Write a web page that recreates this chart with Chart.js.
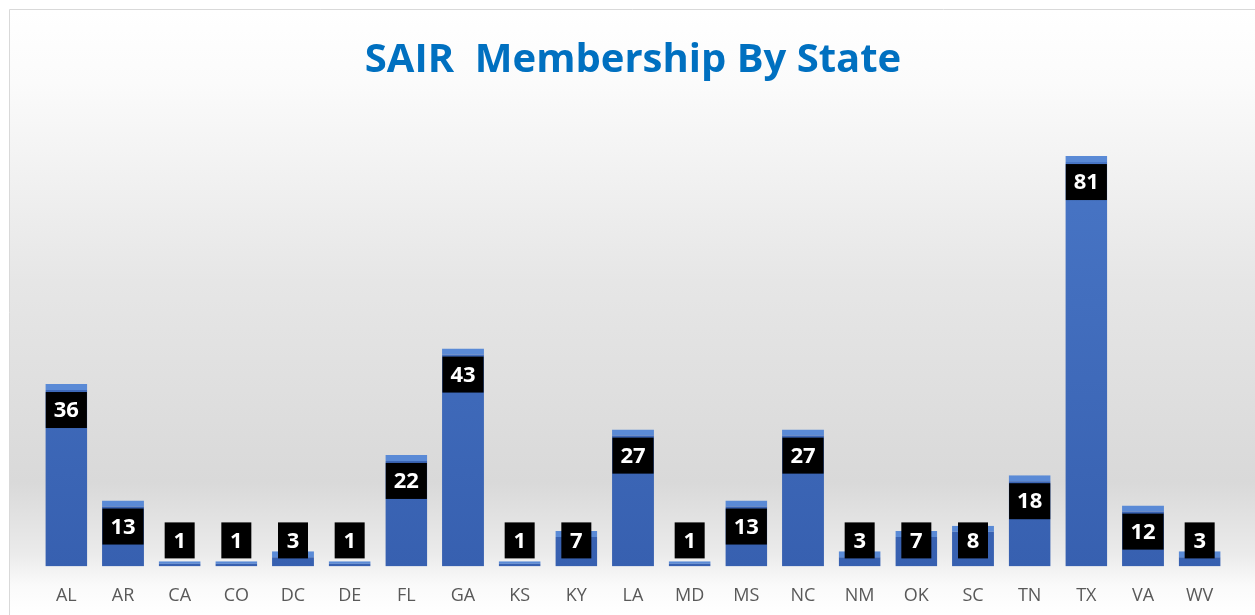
<!DOCTYPE html>
<html><head><meta charset="utf-8">
<script src="https://cdn.jsdelivr.net/npm/chart.js@4/dist/chart.umd.min.js"></script>
<style>html,body{margin:0;padding:0;background:#fff;}#wrap{width:1255px;height:615px;}</style>
</head><body><div id="wrap"><canvas id="c" width="1255" height="615"></canvas></div>
<script>
const states = ["AL","AR","CA","CO","DC","DE","FL","GA","KS","KY","LA","MD","MS","NC","NM","OK","SC","TN","TX","VA","WV"];
const members = [36,13,1,1,3,1,22,43,1,7,27,1,13,27,3,7,8,18,81,12,3];
const titleText = "SAIR  Membership By State";

const bgPlugin = {
  id: 'bg',
  beforeDraw(chart) {
    const ctx = chart.ctx, w = chart.width, h = chart.height;
    ctx.save();
    ctx.fillStyle = '#ffffff';
    ctx.fillRect(0,0,w,h);
    const g = ctx.createLinearGradient(0, 10, 0, h);
    g.addColorStop(0, '#ffffff');
    g.addColorStop(0.12, '#fbfbfb');
    g.addColorStop(0.45, '#e6e6e6');
    g.addColorStop(0.78, '#d9d9d9');
    g.addColorStop(0.90, '#ebebeb');
    g.addColorStop(0.95, '#fafafa');
    g.addColorStop(1, '#ffffff');
    ctx.fillStyle = g;
    ctx.fillRect(10, 10, w - 10, h - 10);
    ctx.strokeStyle = '#d9d9d9';
    ctx.lineWidth = 1;
    ctx.beginPath();
    ctx.moveTo(9.5, h); ctx.lineTo(9.5, 9.5); ctx.lineTo(w, 9.5);
    ctx.stroke();
    ctx.restore();
  }
};

const labelPlugin = {
  id: 'boxLabels',
  afterDatasetsDraw(chart) {
    const ctx = chart.ctx;
    const meta = chart.getDatasetMeta(0);
    const yScale = chart.scales.y;
    const limit = yScale.getPixelForValue(0) - 26;
    ctx.save();
    ctx.font = 'bold 22px "Open Sans", sans-serif';
    ctx.textAlign = 'center';
    ctx.textBaseline = 'middle';
    meta.data.forEach((bar, i) => {
      const txt = String(members[i]);
      const cy = Math.min(bar.y + 26, limit);
      const tw = ctx.measureText(txt).width;
      const bw = Math.max(30, tw + 16);
      const bh = 36;
      ctx.fillStyle = '#000000';
      ctx.fillRect(bar.x - bw / 2, cy - bh / 2, bw, bh);
      ctx.fillStyle = '#ffffff';
      ctx.fillText(txt, bar.x, cy + 1);
    });
    ctx.restore();
  }
};

new Chart(document.getElementById('c'), {
  type: 'bar',
  data: {
    labels: states,
    datasets: [{
      data: members,
      backgroundColor: (c) => {
        const a = c.chart.chartArea;
        if (!a) return '#4472c4';
        const g = c.chart.ctx.createLinearGradient(0, a.top, 0, a.bottom);
        g.addColorStop(0, '#4a78c8');
        g.addColorStop(1, '#3760b0');
        return g;
      },
      borderColor: '#5a8ad6',
      borderWidth: {top: 6, left: 0, right: 0, bottom: 0},
      borderSkipped: 'bottom',
      categoryPercentage: 1.0,
      barPercentage: 0.74
    }]
  },
  options: {
    responsive: false,
    animation: false,
    layout: {padding: {left: 38, right: 27, top: 0, bottom: -3}},
    plugins: {
      legend: {display: false},
      tooltip: {enabled: false},
      title: {
        display: true,
        text: titleText,
        color: '#0070c0',
        font: {family: '"Open Sans", sans-serif', size: 40, weight: 'bold'},
        padding: {top: 37, bottom: 28}
      }
    },
    scales: {
      x: {
        grid: {display: false},
        border: {display: false},
        ticks: {color: '#595959', font: {family: '"Open Sans", sans-serif', size: 18}, padding: 11}
      },
      y: {
        display: false,
        min: 0,
        max: 89.5
      }
    }
  },
  plugins: [bgPlugin, labelPlugin]
});
</script>
</body></html>
